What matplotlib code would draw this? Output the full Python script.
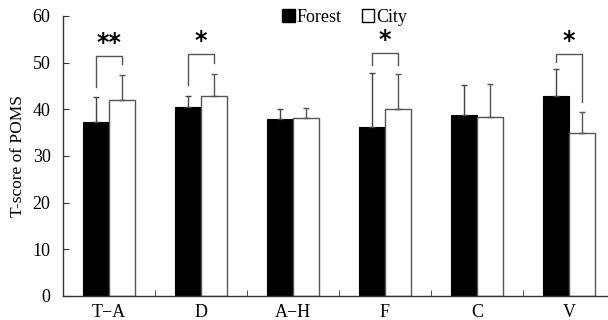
import matplotlib
matplotlib.use("Agg")
import matplotlib.pyplot as plt
import numpy as np
from matplotlib.patches import Patch

plt.rcParams['font.family'] = ['Liberation Serif', 'DejaVu Serif']

# --- data ---
categories = ["T\u2212A", "D", "A\u2212H", "F", "C", "V"]
forest_mean = [37.2, 40.5, 37.8, 36.1, 38.8, 42.9]
forest_err = [5.5, 2.3, 2.2, 11.6, 6.4, 5.7]
city_mean = [41.9, 42.9, 38.2, 40.0, 38.4, 34.8]
city_err = [5.4, 4.7, 2.1, 7.5, 7.1, 4.7]

# significance marks: (category index, label, bracket top, left leg end, right leg end)
sig_marks = [
    (0, "**", 51.3, 44.8, 49.6),
    (1, "*", 51.8, 45.2, 49.8),
    (3, "*", 52.0, 49.5, 49.5),
    (5, "*", 51.9, 50.2, 41.6),
]

# --- figure ---
fig = plt.figure(figsize=(6.08, 3.2), dpi=100)
ax = fig.add_axes([63 / 608, 24 / 320, 545 / 608, 280.2 / 320])

x = np.arange(len(categories))
w = 0.287
edge = "#555555"

ax.bar(x - w / 2, forest_mean, w, color="black", edgecolor="black", linewidth=0.8,
       yerr=[np.zeros(len(x)), forest_err], ecolor="#444444",
       error_kw=dict(capsize=2, elinewidth=1.0, capthick=1.0), label="Forest")
ax.bar(x + w / 2, city_mean, w, color="white", edgecolor=edge, linewidth=1.0,
       yerr=[np.zeros(len(x)), city_err], ecolor="#555555",
       error_kw=dict(capsize=2, elinewidth=1.0, capthick=1.0), label="City")

# brackets and stars
for i, lab, top, yl, yr in sig_marks:
    xl, xr = i - w / 2, i + w / 2
    ax.plot([xl, xl, xr, xr], [yl, top, top, yr], color="#555555", lw=1.0)
    ax.text(i, top + 0.2, lab, ha="center", va="bottom", fontsize=17,
            fontweight="bold", family="DejaVu Sans")

ax.set_xlim(-0.5, -0.5 + 545 / 92)
ax.set_ylim(0, 60)
ax.set_yticks(np.arange(0, 61, 10))
ax.set_xticks(x)
ax.set_xticklabels(categories)
ax.set_xticks(np.arange(0.5, 5.0, 1.0), minor=True)
ax.tick_params(axis="y", direction="in", length=4, labelsize=13, pad=9, color="#333333")
ax.tick_params(axis="x", which="major", length=0, labelsize=13, pad=6)
ax.tick_params(axis="x", which="minor", direction="in", length=4, color="#333333")
ax.set_ylabel("T-score of POMS", fontsize=12.5, labelpad=5)

for s in ["top", "right"]:
    ax.spines[s].set_visible(False)
for s in ["left", "bottom"]:
    ax.spines[s].set_color("#333333")
    ax.spines[s].set_linewidth(1.0)

handles = [Patch(facecolor="black", edgecolor="black"),
           Patch(facecolor="white", edgecolor="black")]
ax.legend(handles, ["Forest", "City"], loc="center", bbox_to_anchor=(0.517, 0.995),
          ncol=2, frameon=False, fontsize=13, handlelength=0.7, handleheight=0.7,
          handletextpad=0.1, columnspacing=1.1)

fig.savefig("out.png", dpi=100)
